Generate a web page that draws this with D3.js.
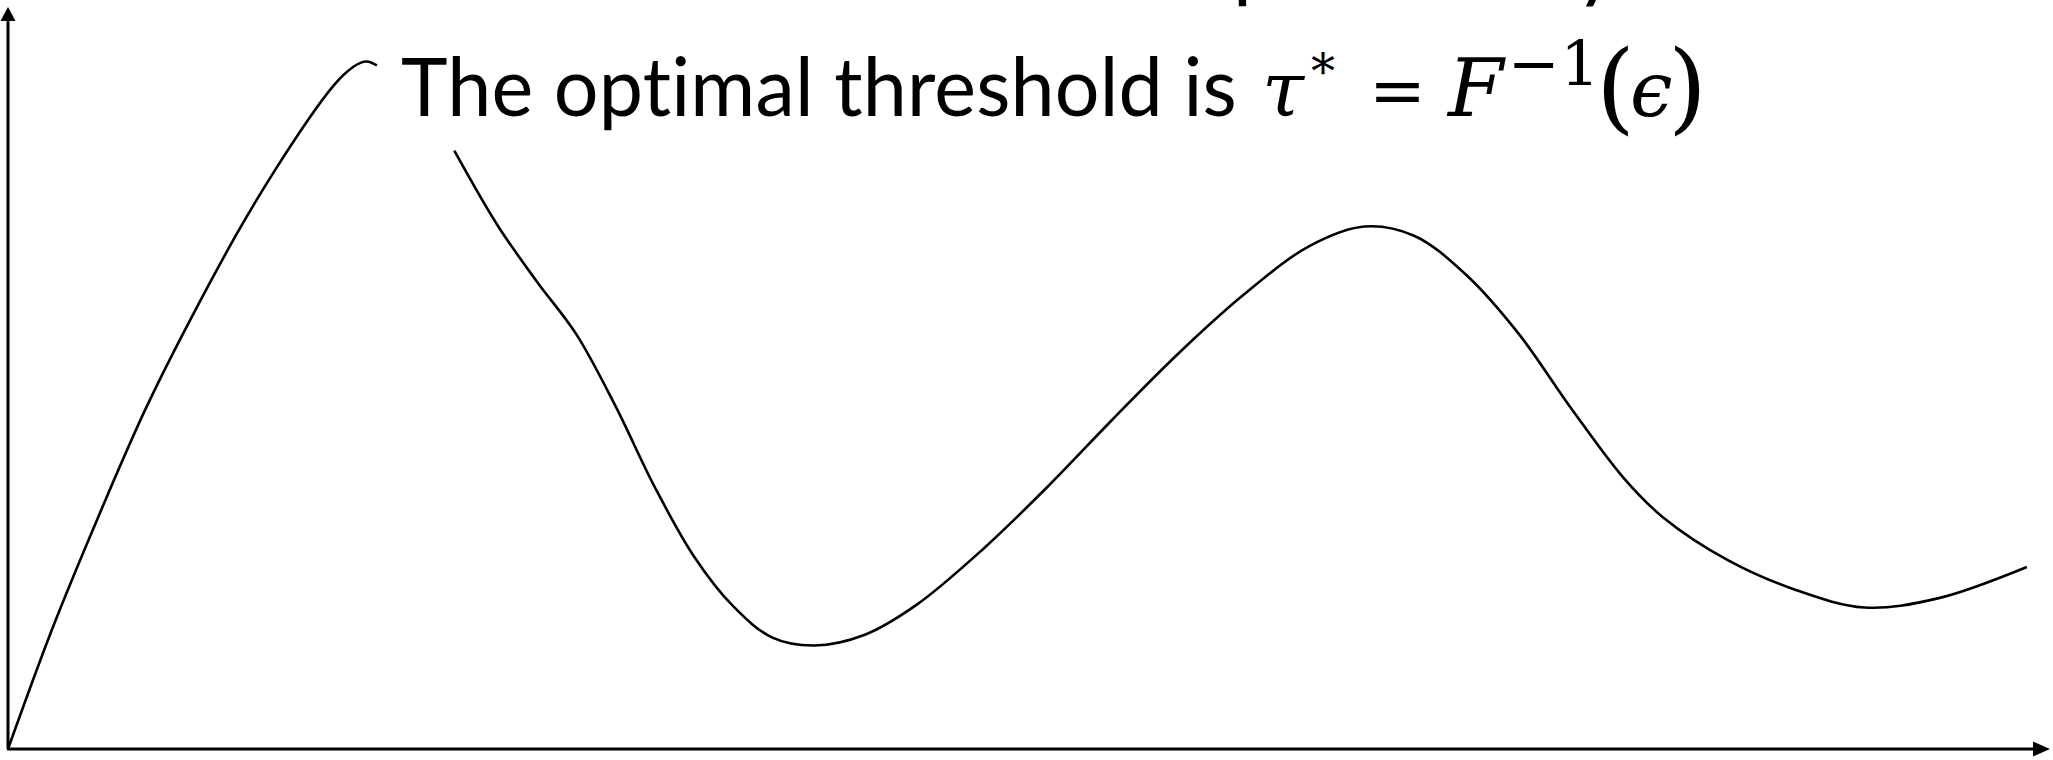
<!DOCTYPE html>
<html>
<head>
<meta charset="utf-8">
<script src="https://cdn.jsdelivr.net/npm/d3@7"></script>
<style>
  html, body { margin: 0; padding: 0; background: #fff; overflow: hidden; }
  svg { display: block; }
  text, tspan { font-variant-ligatures: none; font-feature-settings: "liga" 0, "clig" 0, "dlig" 0; letter-spacing: 0.2px; }
</style>
</head>
<body>
<script>
// Rising branch of the curve (from the origin up to the first crest)
const riseX = [0, 2.19, 4.45, 6.71, 8.97, 11.24, 13.18, 14.79, 16.09, 17.05, 17.70, 18.21];
const riseY = [0, 16.53, 31.80, 46.17, 58.74, 70.41, 79.40, 86.21, 91.07, 93.58, 94.31, 93.76];

// Second branch: trough, second crest, shallow trough, rising tail
const waveX = [22.03, 24.16, 26.10, 28.04, 29.98, 31.92, 33.86, 35.79, 37.73, 39.80, 42.26, 44.84,
               48.08, 51.30, 54.54, 57.77, 61.00, 64.23, 66.95, 69.40, 71.98, 74.57, 77.16, 79.74,
               81.68, 84.91, 88.14, 91.63, 95.25, 99.65];
const waveY = [82.08, 71.85, 64.13, 56.94, 47.06, 35.94, 26.41, 19.59, 15.28, 14.20, 15.64, 19.77,
               27.31, 35.94, 45.27, 54.25, 62.33, 68.98, 71.67, 70.41, 65.02, 56.94, 46.71, 37.19,
               31.80, 25.87, 21.92, 19.41, 20.66, 24.97];

const titleWords = "The optimal threshold is";
const lineAbove = "probability";

const W = 2053, H = 760;
const svg = d3.select("body").append("svg").attr("width", W).attr("height", H);

const x = d3.scaleLinear().domain([0, 100]).range([8, 2034]);
const y = d3.scaleLinear().domain([0, 100]).range([749, 20]);

// Axes with arrowheads
const ax = svg.append("g").attr("stroke", "#000").attr("fill", "#000");
ax.append("line")
  .attr("x1", x(0)).attr("y1", y(0)).attr("x2", x(0)).attr("y2", y(100))
  .attr("stroke-width", 3);
ax.append("line")
  .attr("x1", x(0) - 1).attr("y1", y(0)).attr("x2", x(100)).attr("y2", y(0))
  .attr("stroke-width", 3);
ax.append("path")
  .attr("stroke", "none")
  .attr("d", `M${x(0) - 7.5},${y(100) + 1} L${x(0) + 7.5},${y(100) + 1} L${x(0)},${y(100) - 13} Z`);
ax.append("path")
  .attr("stroke", "none")
  .attr("d", `M${x(100) - 1},${y(0) - 7.5} L${x(100) - 1},${y(0) + 7.5} L${x(100) + 16},${y(0)} Z`);

// Curve: smooth rise, then a wave drawn through its control points
const riseLine = d3.line()
  .x(d => x(d[0]))
  .y(d => y(d[1]))
  .curve(d3.curveNatural);
const waveLine = d3.line()
  .x(d => x(d[0]))
  .y(d => y(d[1]))
  .curve(d3.curveCatmullRom.alpha(0.5));

const rise = riseX.map((v, i) => [v, riseY[i]]);
const wave = waveX.map((v, i) => [v, waveY[i]]);

svg.append("path").datum(rise)
  .attr("d", riseLine).attr("fill", "none").attr("stroke", "#000").attr("stroke-width", 2.6);
svg.append("path").datum(wave)
  .attr("d", waveLine).attr("fill", "none").attr("stroke", "#000").attr("stroke-width", 2.6);

// Text: the line above runs off the top edge, only its descenders show
const sans = "Lato, 'Open Sans', sans-serif";
const serif = "'DejaVu Serif', 'Liberation Serif', serif";

svg.append("text")
  .attr("x", 1233).attr("y", -8)
  .attr("font-family", sans).attr("font-size", 82)
  .attr("textLength", 385).attr("lengthAdjust", "spacingAndGlyphs")
  .text(lineAbove);

// Heading with the formula τ* = F^{-1}(ε), one text element
const head = svg.append("text").attr("y", 116).attr("fill", "#000");
head.append("tspan")
  .attr("x", 401)
  .attr("font-family", sans).attr("font-size", 82)
  .attr("textLength", 836).attr("lengthAdjust", "spacingAndGlyphs")
  .text(titleWords);
head.append("tspan").attr("x", 1262).attr("y", 116)
  .attr("font-family", serif).attr("font-style", "italic").attr("font-size", 76).text("τ");
head.append("tspan").attr("x", 1311).attr("y", 88)
  .attr("font-family", serif).attr("font-size", 48).text("*");
head.append("tspan").attr("x", 1369).attr("y", 114)
  .attr("font-family", serif).attr("font-size", 68).text("=");
head.append("tspan").attr("x", 1448).attr("y", 116)
  .attr("font-family", serif).attr("font-style", "italic").attr("font-size", 80).text("F");
head.append("tspan").attr("x", 1508).attr("y", 85)
  .attr("font-family", serif).attr("font-size", 62).text("−1");
head.append("tspan").attr("x", 1596).attr("y", 121)
  .attr("font-family", serif).attr("font-size", 100).text("(");
head.append("tspan").attr("x", 1630).attr("y", 116)
  .attr("font-family", serif).attr("font-style", "italic").attr("font-size", 76).text("ϵ");
head.append("tspan").attr("x", 1668).attr("y", 121)
  .attr("font-family", serif).attr("font-size", 100).text(")");
</script>
</body>
</html>
